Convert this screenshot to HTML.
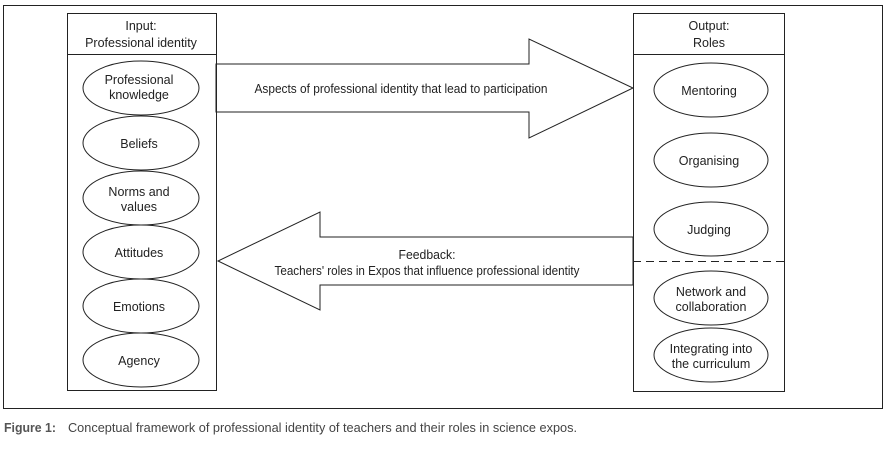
<!DOCTYPE html>
<html><head><meta charset="utf-8"><style>
body{margin:0;background:#fff;width:886px;height:446px;overflow:hidden}
svg text{font-family:"Liberation Sans Narrow","Liberation Sans",sans-serif;font-size:12.5px;fill:#222}
</style></head><body>
<svg width="886" height="446" xmlns="http://www.w3.org/2000/svg">
<rect x="3.5" y="5.5" width="879" height="403" fill="none" stroke="#222" stroke-width="1"/>
<g fill="none" stroke="#222" stroke-width="1">
<rect x="67.5" y="13.5" width="149" height="377"/>
<line x1="67" y1="54.5" x2="216" y2="54.5"/>
<rect x="633.5" y="13.5" width="151" height="378"/>
<line x1="633" y1="54.5" x2="784" y2="54.5"/>
<line x1="633" y1="261.5" x2="784" y2="261.5" stroke-dasharray="8,5"/>
<polygon points="216,64 529,64 529,39 633,88 529,138 529,112 216,112"/>
<polygon points="633,237 320,237 320,212 218,261 320,310 320,285 633,285"/>
<ellipse cx="141" cy="88" rx="58" ry="27"/>
<ellipse cx="141" cy="143" rx="58" ry="27"/>
<ellipse cx="141" cy="198" rx="58" ry="27"/>
<ellipse cx="141" cy="252" rx="58" ry="27"/>
<ellipse cx="141" cy="306" rx="58" ry="27"/>
<ellipse cx="141" cy="360" rx="58" ry="27"/>
<ellipse cx="711" cy="90" rx="57" ry="27"/>
<ellipse cx="711" cy="160" rx="57" ry="27"/>
<ellipse cx="711" cy="229" rx="57" ry="27"/>
<ellipse cx="711" cy="298" rx="57" ry="27"/>
<ellipse cx="711" cy="355" rx="57" ry="27"/>
</g>
<g text-anchor="middle">
<text x="141" y="30">Input:</text><text x="141" y="47">Professional identity</text>
<text x="709" y="30">Output:</text><text x="709" y="47">Roles</text>
<text x="139" y="84">Professional</text><text x="139" y="99">knowledge</text>
<text x="139" y="148">Beliefs</text>
<text x="139" y="196">Norms and</text><text x="139" y="211">values</text>
<text x="139" y="257">Attitudes</text>
<text x="139" y="311">Emotions</text>
<text x="139" y="365">Agency</text>
<text x="709" y="95">Mentoring</text>
<text x="709" y="165">Organising</text>
<text x="709" y="234">Judging</text>
<text x="711" y="296">Network and</text><text x="711" y="311">collaboration</text>
<text x="711" y="353">Integrating into</text><text x="711" y="368">the curriculum</text>
<text x="401" y="93" textLength="293" lengthAdjust="spacingAndGlyphs">Aspects of professional identity that lead to participation</text>
<text x="427" y="259" textLength="57" lengthAdjust="spacingAndGlyphs">Feedback:</text>
<text x="427" y="275" textLength="305" lengthAdjust="spacingAndGlyphs">Teachers' roles in Expos that influence professional identity</text>
</g>
<text x="4" y="432" style="font-weight:bold;fill:#555" textLength="52" lengthAdjust="spacingAndGlyphs">Figure 1:</text>
<text x="68" y="432" style="fill:#444" textLength="509" lengthAdjust="spacingAndGlyphs">Conceptual framework of professional identity of teachers and their roles in science expos.</text>
</svg>
</body></html>
